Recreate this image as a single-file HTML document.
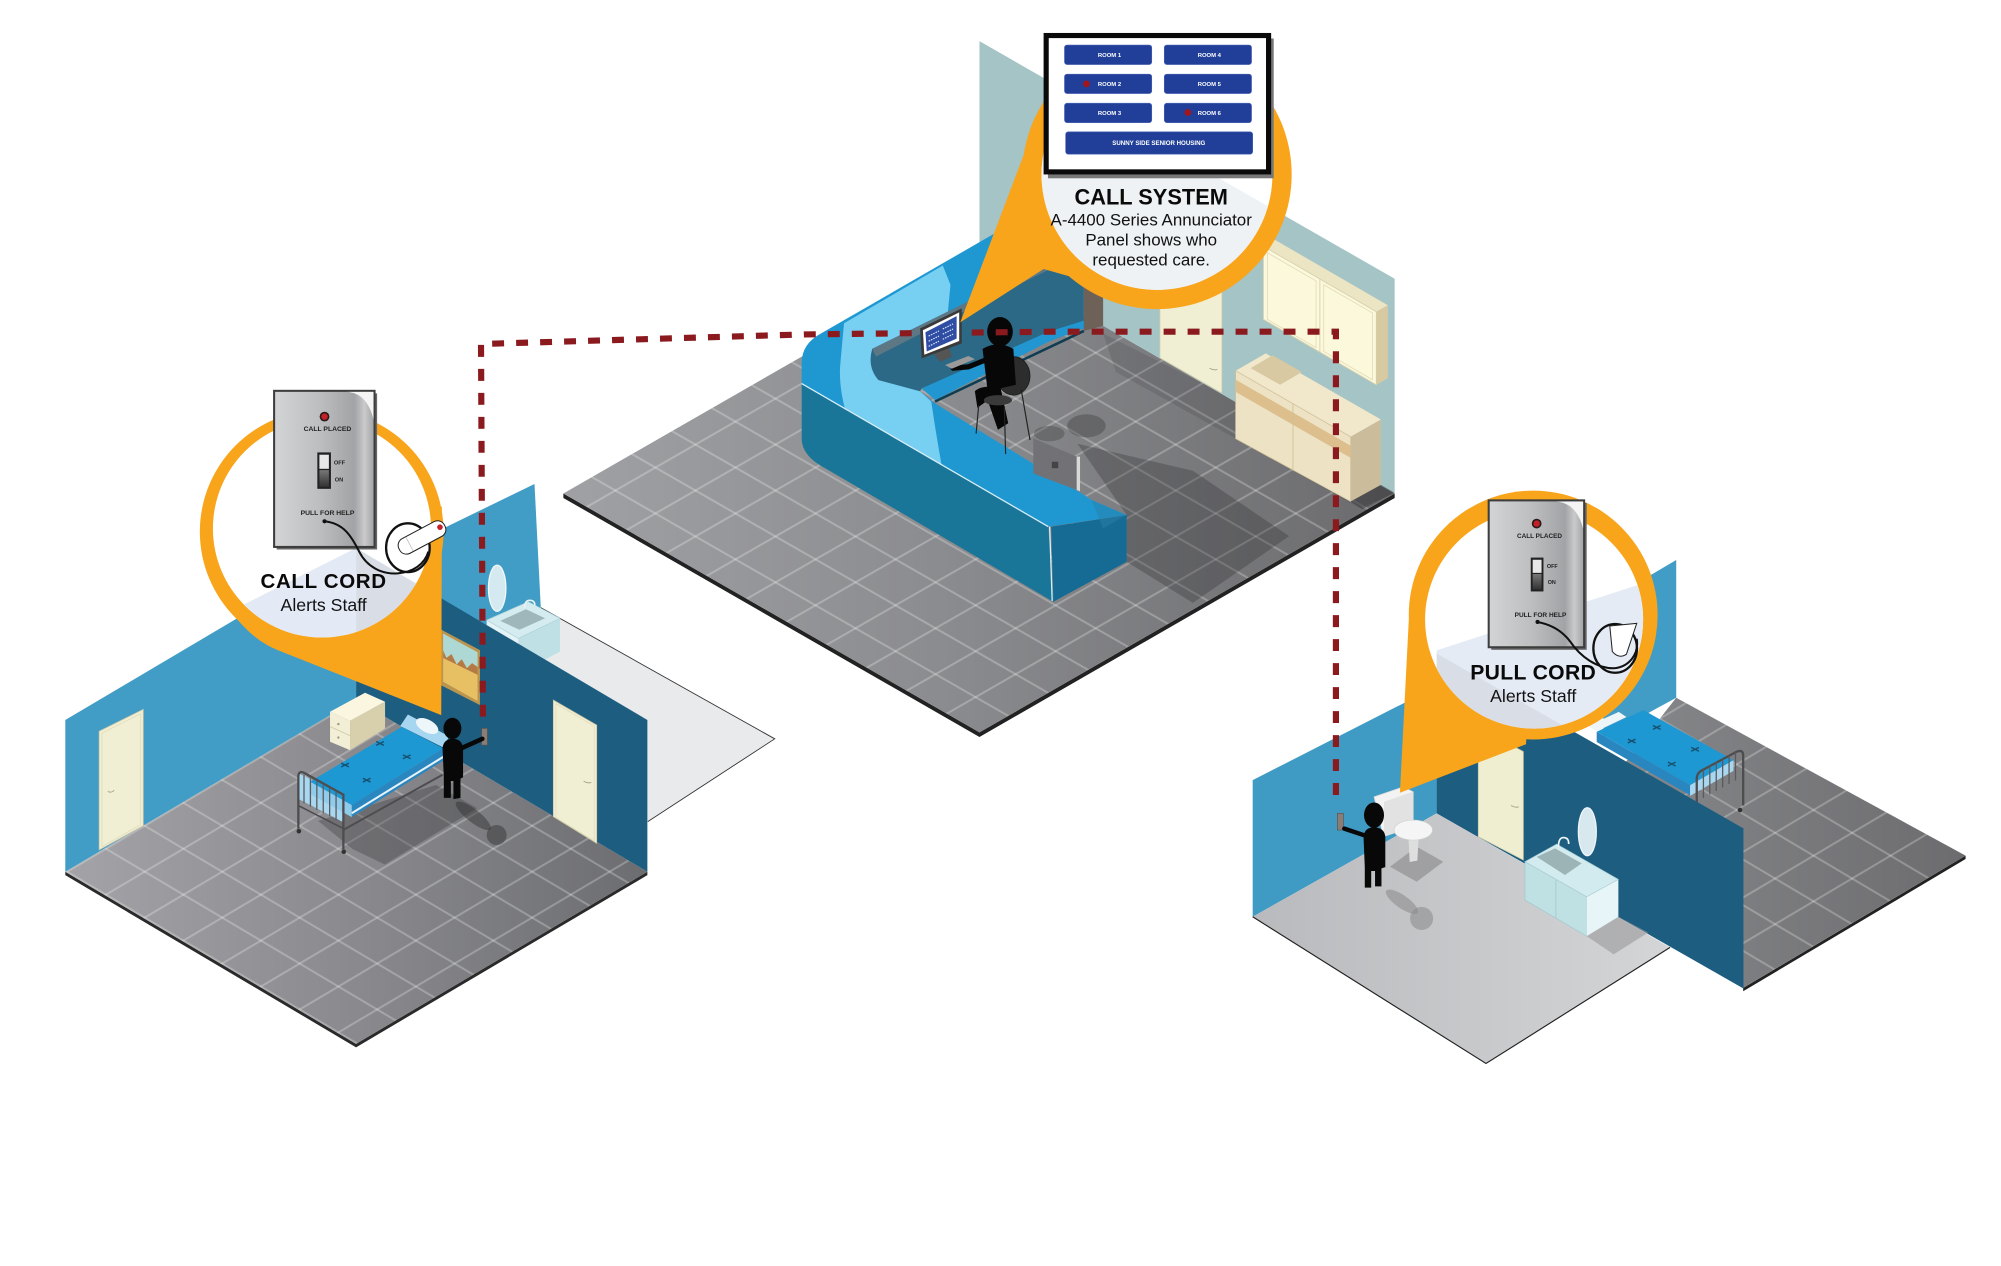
<!DOCTYPE html>
<html><head><meta charset="utf-8"><style>
html,body{margin:0;padding:0;background:#fff;}
svg{display:block;}
text{font-family:"Liberation Sans",Arial,sans-serif;}
</style></head><body>
<svg width="2001" height="1266" viewBox="0 0 2001 1266" xmlns="http://www.w3.org/2000/svg">
<defs>
<linearGradient id="gFloorC" x1="439" y1="0" x2="1087" y2="0" gradientUnits="userSpaceOnUse"><stop offset="0" stop-color="#a0a1a4"/><stop offset="0.45" stop-color="#8b8c8f"/><stop offset="1" stop-color="#6b6b6e"/></linearGradient>
<linearGradient id="gFloorL" x1="51" y1="0" x2="505" y2="0" gradientUnits="userSpaceOnUse"><stop offset="0" stop-color="#a4a4a8"/><stop offset="0.5" stop-color="#8a8a8e"/><stop offset="1" stop-color="#6c6d70"/></linearGradient>
<linearGradient id="gFloorR" x1="1200" y1="0" x2="1532" y2="0" gradientUnits="userSpaceOnUse"><stop offset="0" stop-color="#8d8e91"/><stop offset="1" stop-color="#6c6c6f"/></linearGradient>
<linearGradient id="gBath" x1="977" y1="0" x2="1302" y2="0" gradientUnits="userSpaceOnUse"><stop offset="0" stop-color="#b9babd"/><stop offset="1" stop-color="#d4d5d7"/></linearGradient>
<linearGradient id="gPanel" x1="0" y1="0" x2="1" y2="0"><stop offset="0" stop-color="#d3d4d6"/><stop offset="0.45" stop-color="#bdbec0"/><stop offset="0.8" stop-color="#a2a3a6"/><stop offset="0.9" stop-color="#cacacc"/><stop offset="1" stop-color="#a0a1a3"/></linearGradient>
<linearGradient id="gSw" x1="0" y1="0" x2="0" y2="1"><stop offset="0" stop-color="#777"/><stop offset="1" stop-color="#333"/></linearGradient>
<clipPath id="cL"><circle cx="251" cy="412" r="85"/></clipPath>
<clipPath id="cC"><circle cx="902" cy="136" r="90"/></clipPath>
<clipPath id="cR"><circle cx="1196" cy="483" r="85"/></clipPath>
<pattern id="pC" width="100" height="100" patternUnits="userSpaceOnUse" patternTransform="matrix(0.312 0.179 0.312 -0.179 571.8 400.3)"><rect x="0" y="0" width="100" height="5" fill="#fff" fill-opacity="0.25"/><rect x="0" y="0" width="5" height="100" fill="#fff" fill-opacity="0.25"/></pattern>
<pattern id="pL" width="100" height="100" patternUnits="userSpaceOnUse" patternTransform="matrix(0.302 0.179 0.302 -0.179 50.9 679.6)"><rect x="0" y="0" width="100" height="5" fill="#fff" fill-opacity="0.25"/><rect x="0" y="0" width="5" height="100" fill="#fff" fill-opacity="0.25"/></pattern>
<pattern id="pR" width="100" height="100" patternUnits="userSpaceOnUse" patternTransform="matrix(0.30 0.178 0.30 -0.178 1532.4 667.1)"><rect x="0" y="0" width="100" height="5" fill="#fff" fill-opacity="0.25"/><rect x="0" y="0" width="5" height="100" fill="#fff" fill-opacity="0.25"/></pattern>
</defs>
<rect x="0" y="0" width="2001" height="1266" fill="#fff"/>
<g transform="scale(1.282692)">

<!-- ============ LEFT ROOM ============ -->
<polygon points="421.6,473.7 604,576 505,640.5 340,545" fill="#e9eaec"/>
<polyline points="421.6,473.7 604,576 505,640.5" fill="none" stroke="#333" stroke-width="0.7"/>
<polygon points="343,413.2 416.7,377.3 421.6,473.7 380,490 343,480" fill="#419dc6"/>
<ellipse cx="387.6" cy="458.6" rx="6.8" ry="18" fill="#d5e9f0" stroke="#f3f9fb" stroke-width="1"/>
<polygon points="379.4,483.4 404.1,497.7 404.1,525 379.4,511" fill="#e4f3f6"/>
<polygon points="404.1,497.7 436.6,482.1 436.6,508 404.1,525" fill="#bfe0e4"/>
<polygon points="379.4,483.4 411.9,469.1 436.6,482.1 404.1,497.7" fill="#d4ecf0" stroke="#a9cfd6" stroke-width="0.5"/>
<polygon points="390,484 410,475 425,482 405,491" fill="#9fb6ba"/>
<path d="M409,474 q0,-6 4,-6 q4,0 4,4" fill="none" stroke="#e8f4f6" stroke-width="1.2"/>

<polygon points="50.9,679.6 277.6,813.8 504.7,679.6 504.7,682.3 277.6,816.5 50.9,682.3" fill="#2a2a2a"/>
<polygon points="50.9,679.6 277.6,813.8 504.7,679.6 277.6,545.5" fill="url(#gFloorL)"/>
<polygon points="50.9,679.6 277.6,813.8 504.7,679.6 277.6,545.5" fill="url(#pL)"/>

<polygon points="50.9,561.3 277.6,427.2 277.6,545.5 50.9,679.6" fill="#419dc6"/>
<polygon points="277.6,427.2 504.7,561.3 504.7,679.6 277.6,545.5" fill="#1d5d80"/>

<polygon points="77.3,570.1 111.7,553 111.7,643.7 77.3,662.6" fill="#f1efd3" stroke="#cbc6a5" stroke-width="0.6"/>
<polygon points="79.5,571.6 109.5,556.6 109.5,643 79.5,660" fill="none" stroke="#dcd7b6" stroke-width="0.5"/>
<path d="M84,617 q3,1.5 5,-1" fill="none" stroke="#a8a385" stroke-width="0.7"/>
<polygon points="431.4,545.8 465.2,565.3 465.2,657.5 431.4,636.7" fill="#f1efd3" stroke="#cbc6a5" stroke-width="0.6"/>
<polygon points="433.4,548.5 463.2,566.2 463.2,655.6 433.4,637.4" fill="none" stroke="#dcd7b6" stroke-width="0.5"/>
<path d="M455,609 q3,2 6,1" fill="none" stroke="#a8a385" stroke-width="0.7"/>

<polygon points="343.6,490.7 374.2,506.8 374.2,549.7 343.6,534.1" fill="#b99550"/>
<polygon points="345.5,494 372.3,508.5 372.3,546.5 345.5,531.5" fill="#e7c064"/>
<polygon points="345.5,494 372.3,508.5 372.3,520 368,517 364,521 360,514 356,518 352,510 348,513 345.5,507" fill="#aed8d4"/>
<polygon points="345.5,507 348,513 352,510 356,518 360,514 364,521 368,517 372.3,520 372.3,526 345.5,513" fill="#b47a45"/>

<polygon points="257.3,554.9 272.9,561.9 272.9,584.8 257.3,578.3" fill="#f3efd6"/>
<polygon points="272.9,561.9 300.2,547.1 300.2,567.9 272.9,584.8" fill="#d8cfac"/>
<polygon points="257.3,554.9 284.6,540.1 300.2,547.1 272.9,561.9" fill="#faf6df"/>
<line x1="257.3" y1="566.5" x2="272.9" y2="573.5" stroke="#cfc8a6" stroke-width="0.6"/>
<circle cx="263.8" cy="564.5" r="0.9" fill="#9d967a"/><circle cx="263.8" cy="575" r="0.9" fill="#9d967a"/>

<polygon points="248,640 275,662 300,674 372,630 340,612" fill="#2e2e31" fill-opacity="0.3"/>
<polygon points="312,566 318,557 350,574 346,583" fill="#a6d6f0"/>
<polygon points="233,603 267.7,620 267.7,641 233,623" fill="#a9d7ef"/>
<polygon points="345.7,583.5 274.2,627.6 274.2,637 345.7,593" fill="#2a86bf"/>
<polyline points="274.2,634 345.7,590" fill="none" stroke="#e7f3f8" stroke-width="1.6"/>
<polygon points="241.7,609.4 274.2,627.6 274.2,637 241.7,619" fill="#8fcbeb"/>
<polygon points="313.2,566.6 345.7,583.5 274.2,627.6 241.7,609.4" fill="#1e98d2"/>
<ellipse cx="333" cy="566" rx="9.5" ry="5" fill="#edf6f8" transform="rotate(28 333 566)"/>
<path d="M293.3,578.1 L299.3,581.1 M293.3,581.1 L299.3,578.1 M266,594.9 L272,597.9 M266,597.9 L272,594.9 M314.1,588.5 L320.1,591.5 M314.1,591.5 L320.1,588.5 M282.9,606.7 L288.9,609.7 M282.9,609.7 L288.9,606.7" stroke="#17506f" stroke-width="1.1"/>
<path d="M232.6,646 V605 Q233,600.5 237,602.5 L267.7,619.5 V662" fill="none" stroke="#4d4d50" stroke-width="1.8"/>
<path d="M237,604.3 V626.3 M242,606.8 V628.8 M247,609.4 V631.4 M252,612 V634 M257,614.5 V636.5 M262,617.1 V639.1" stroke="#5a5a5d" stroke-width="1"/>
<line x1="232.6" y1="628" x2="267.7" y2="646" stroke="#4d4d50" stroke-width="1.2"/>
<line x1="267.7" y1="647" x2="345" y2="604" stroke="#4d4d50" stroke-width="1.5"/>
<circle cx="233" cy="648" r="1.8" fill="#333"/><circle cx="268" cy="664" r="1.8" fill="#333"/>

<ellipse cx="369" cy="636" rx="17" ry="5" fill="#2e2e30" fill-opacity="0.45" transform="rotate(38 369 636)"/>
<circle cx="387.2" cy="651" r="7.8" fill="#2e2e30" fill-opacity="0.45"/>
<rect x="375.5" y="567.9" width="4.5" height="13" fill="#8a7d76" stroke="#5a5250" stroke-width="0.5"/>
<ellipse cx="352.7" cy="567.9" rx="7" ry="8.3" fill="#080808"/>
<path d="M345,583 Q346,576 353,576 Q360,576 361,583 L361,606 L359,607 L359,622 L353.5,623 L353.5,609 L351.5,609 L351.5,622 L346,622 L346,606 Z" fill="#080808"/>
<line x1="356" y1="585" x2="376" y2="576" stroke="#080808" stroke-width="3.6" stroke-linecap="round"/>

<!-- ============ CENTER ROOM ============ -->
<polygon points="439.2,384.7 763.6,571 1087.3,384.7 1087.3,388.2 763.6,574.6 439.2,388.2" fill="#222"/>
<polygon points="439.2,384.7 763.6,571 1087.3,384.7 763.6,198.5" fill="url(#gFloorC)"/>
<polygon points="439.2,384.7 763.6,571 1087.3,384.7 763.6,198.5" fill="url(#pC)"/>
<polygon points="840,346 930,367 1005,418 930,470 878.4,438 878.4,401.5" fill="#2b2b2e" fill-opacity="0.3"/>
<polygon points="860,260 1000,330 1087,384.7 1060,396 960,340 870,290" fill="#2b2b2e" fill-opacity="0.15"/>
<ellipse cx="847" cy="332" rx="15" ry="9" fill="#333" fill-opacity="0.35"/>
<ellipse cx="818" cy="338" rx="12" ry="6" fill="#333" fill-opacity="0.3"/>

<polygon points="763.6,32.1 1087.3,217.3 1087.3,384.7 763.6,198.5" fill="#a4c4c6"/>
<polygon points="904.3,200 952.6,227.5 952.6,306.5 904.3,279" fill="#f1efd3" stroke="#d2cda9" stroke-width="0.6"/>
<path d="M943,287 q3,2 6,1" fill="none" stroke="#a8a385" stroke-width="0.7"/>

<polygon points="985,192 994,187 1082,238 1073,243" fill="#ece5c4"/>
<polygon points="985,192 1073,243 1073,300 985,249" fill="#fbf8dc" stroke="#d9d2ad" stroke-width="0.7"/>
<polygon points="988,197 1026,219 1026,271 988,249" fill="none" stroke="#e0d9b6" stroke-width="0.6"/>
<polygon points="1032,222 1070,244 1070,296 1032,274" fill="none" stroke="#e0d9b6" stroke-width="0.6"/>
<line x1="1029" y1="217.5" x2="1029" y2="274.5" stroke="#d9d2ad" stroke-width="0.7"/>
<polygon points="1073,243 1082,238 1082,295 1073,300" fill="#d7caa3"/>

<polygon points="963.3,289 986.8,275.5 1076.6,327 1053,340.5" fill="#f1e8cb"/>
<polygon points="975,287 992,277 1015,290 998,300" fill="#d8c9a3"/>
<polygon points="963.3,289 1053,340.5 1053,391 963.3,342" fill="#ede2c4" stroke="#cfc19a" stroke-width="0.6"/>
<polygon points="963.3,296 1053,347.5 1053,357 963.3,305.5" fill="#dcbf8c"/>
<line x1="1008" y1="315" x2="1008" y2="367" stroke="#cfc19a" stroke-width="0.7"/>
<polygon points="1053,340.5 1076.6,327 1076.6,378 1053,391" fill="#cbbd9b"/>
<polygon points="1053,391 1076.6,378 1087,384 1062,397" fill="#3a3a3c" fill-opacity="0.5"/>

<!-- desk -->
<path d="M625,299 L817.3,410.6 L821.2,469.1 L645,366 Q625,356 625,342 Z" fill="#1a7698"/>
<polygon points="819.5,410.6 878.4,401.5 878.4,437.9 821.2,469.1" fill="#156b93"/>
<line x1="818.3" y1="410.6" x2="820.3" y2="468.5" stroke="#d8eef6" stroke-width="1"/>
<path d="M625,299 L625,283 Q625,268 640,260 L850,139 L868,150 L866,170 L751,237 L680,272 Q676,286 684.8,296.3 L717.3,305 L729,314.5 L847.2,387.2 L851.1,389.8 L817.3,410.6 Z" fill="#1f98d2"/>
<path d="M658,252 L735,207 L741,222 L739,243 L680,272 Q676,286 684.8,296.3 L717.3,305 L726,313 Q730,340 734,362 L658.5,318 Q654,300 655,285 Z" fill="#77cff2"/>
<polygon points="817.3,410.6 851.1,389.8 878.4,401.5" fill="#1f98d2"/>
<polygon points="851,390 878,401.5 860,412" fill="#2a7fa8" fill-opacity="0.5"/>
<line x1="625" y1="299" x2="817.3" y2="410.6" stroke="#d8eef6" stroke-width="1"/>
<path d="M680,272 L751,237 L845,190 L845,256 L817.3,264 L718.6,302.8 L717.3,305 L684.8,296.3 Q676,286 680,272 Z" fill="#2b6986"/>
<polygon points="680,272 751,237 845,190 845,197 751,243 683,278" fill="#5d7784"/>
<polygon points="718.6,302.8 817.3,258.6 845,250 845,256 817.3,266.4 729,311.9" fill="#2196d0"/>
<line x1="729" y1="313" x2="845" y2="258" stroke="#0f3d52" stroke-width="2"/>
<polygon points="845,190 860,182 860,254 845,258" fill="#6e6158"/>

<!-- person at desk -->
<ellipse cx="790" cy="293" rx="13" ry="15" fill="#2d2d2d" stroke="#1a1a1a" stroke-width="0.6"/>
<path d="M766,272 Q778,265 790,272 L792,300 L770,305 Z" fill="#070707"/>
<polyline points="770,280 755,286 743,287" fill="none" stroke="#070707" stroke-width="4" stroke-linecap="round"/>
<path d="M760,305 Q765,300 780,302 L786,330 L778,335 L770,312 L762,318 Z" fill="#070707"/>
<ellipse cx="779.6" cy="258.6" rx="10" ry="11.5" fill="#070707"/>
<ellipse cx="778" cy="312" rx="11" ry="4" fill="#3a3a3a"/>
<path d="M763,316 L761,338 M783,318 L784,354 M796,303 L803,343" stroke="#222" stroke-width="0.9"/>

<polygon points="805.6,341.7 839.4,356 839.4,382 805.6,369.1" fill="#727276"/>
<polygon points="839.4,356 842,356 842,383 839.4,382" fill="#d8d8d8"/>
<rect x="820" y="360" width="5" height="5" fill="#444"/>

<!-- ============ RIGHT ROOM ============ -->
<polygon points="1250,470 1306.8,436.6 1306.8,544 1250,575" fill="#419dc6"/>
<polygon points="1532.4,667.1 1359,770.2 1359,772.8 1532.4,669.7" fill="#222"/>
<polygon points="1306.8,544 1532.4,667.1 1359,770.2 1200,680" fill="url(#gFloorR)"/>
<polygon points="1306.8,544 1532.4,667.1 1359,770.2 1200,680" fill="url(#pR)"/>

<polygon points="1244.8,570.5 1317.6,612.1 1317.6,620 1244.8,578.5" fill="#2a86bf"/>
<polygon points="1317.6,612.1 1351.4,592.6 1351.4,601 1317.6,620.5" fill="#a9d7ef"/>
<polygon points="1244.8,570.5 1281.2,553.6 1351.4,592.6 1317.6,612.1" fill="#1e98d2"/>
<polygon points="1238,566 1262,555 1268,559 1245,570" fill="#eef5f8"/>
<path d="M1288.6,565.6 L1294.6,568.6 M1288.6,568.6 L1294.6,565.6 M1269.1,576.2 L1275.1,579.2 M1269.1,579.2 L1275.1,576.2 M1318.5,582.7 L1324.5,585.7 M1318.5,585.7 L1324.5,582.7 M1300.3,594.2 L1306.3,597.2 M1300.3,597.2 L1306.3,594.2" stroke="#17506f" stroke-width="1.1"/>
<path d="M1322.8,628 V607 Q1323,602 1328,600 L1354,586 Q1359,584 1359,589 V628" fill="none" stroke="#4d4d50" stroke-width="1.8"/>
<path d="M1328,600 V622 M1333,597.3 V619.3 M1338,594.6 V616.6 M1343,591.9 V613.9 M1348,589.2 V611.2 M1353,586.5 V608.5" stroke="#5a5a5d" stroke-width="1"/>
<circle cx="1356.5" cy="631.5" r="1.8" fill="#333"/>

<polygon points="976.6,608.2 1120,535.1 1120,634.1 976.6,714.7" fill="#3f9bc3"/>
<polygon points="1120,509.4 1359.2,645.8 1359.2,770.6 1120,634.1" fill="#1c5d80"/>
<polygon points="1152.5,567 1187.6,586 1187.6,670.5 1152.5,652.3" fill="#f0eed1" stroke="#cfcaa6" stroke-width="0.6"/>
<path d="M1178,628 q3,2 6,1" fill="none" stroke="#a8a385" stroke-width="0.7"/>
<polygon points="976.6,714.7 1158.5,829.1 1302,738.6 1120,634.1" fill="url(#gBath)"/>
<polyline points="976.6,714.7 1158.5,829.1 1302,738.6" fill="none" stroke="#222" stroke-width="0.9"/>

<ellipse cx="1237.5" cy="648.4" rx="7" ry="18.7" fill="#d7e8ef" stroke="#eef6f9" stroke-width="1"/>
<polygon points="1237,729.8 1261.7,714.7 1285,727 1258,744" fill="#9a9a9d" fill-opacity="0.6"/>
<polygon points="1188.9,671.8 1237,699.1 1237,729.8 1188.9,701.7" fill="#bfe1e3" stroke="#9fc7cc" stroke-width="0.5"/>
<line x1="1213" y1="686" x2="1213" y2="716" stroke="#9fc7cc" stroke-width="0.6"/>
<polygon points="1237,699.1 1261.7,685.6 1261.7,714.7 1237,729.8" fill="#e7f5f8"/>
<polygon points="1188.9,671.8 1213.6,658.1 1261.7,685.6 1237,699.1" fill="#d2ebef" stroke="#a8ccd2" stroke-width="0.5"/>
<polygon points="1198,668 1212.3,661.4 1233.1,673.1 1220.1,682.2" fill="#9db4b7"/>
<path d="M1215,660 q0,-7 4,-7 q4,0 4,5" fill="none" stroke="#eef7f9" stroke-width="1.3"/>

<polygon points="1104.5,660.1 1125.2,671.8 1104.5,687.4 1083.7,675.7" fill="#a0a0a3"/>
<polygon points="1071.2,621.2 1094,613.4 1101.8,617.3 1101.8,644.5 1078.5,652.3" fill="#f3f3f3" stroke="#d5d5d5" stroke-width="0.5"/>
<polygon points="1079,625 1101.8,617.3 1101.8,644.5 1079,652" fill="#e2e2e2"/>
<polygon points="1098,652 1106,652 1105,671 1099,672" fill="#dedede"/>
<ellipse cx="1101.8" cy="647.1" rx="15" ry="7.8" fill="#f5f5f5" stroke="#d0d0d0" stroke-width="0.5"/>

<ellipse cx="1093" cy="703" rx="15" ry="5" fill="#8d8d90" fill-opacity="0.6" transform="rotate(35 1093 703)"/>
<circle cx="1108.3" cy="716" r="9" fill="#8d8d90" fill-opacity="0.6"/>
<rect x="1042.6" y="634.1" width="4.7" height="13" fill="#8a7d76" stroke="#5a5250" stroke-width="0.5"/>
<ellipse cx="1071.2" cy="635.5" rx="7.8" ry="9.9" fill="#080808"/>
<path d="M1063,652 Q1064,645 1071,645 Q1079,645 1080,652 L1080,676 L1077,677 L1077,691 L1072,691 L1072,679 L1069,679 L1069,692 L1064,692 L1064,676 Z" fill="#080808"/>
<line x1="1066" y1="652" x2="1048" y2="646" stroke="#080808" stroke-width="3.4" stroke-linecap="round"/>

<!-- dashed connector (on top of rooms) -->
<path d="M376.5,558.7 L375,268.2 L627,260.7 L820,258.6 L1041.5,258.6 L1041.5,625" fill="none" stroke="#8b1a1f" stroke-width="4.8" stroke-dasharray="9.3 9.4"/>

<!-- workstation monitor -->
<polygon points="728,276 740,271 742,278 733,282" fill="#555"/>
<polygon points="717.3,256 749.8,240.4 749.8,267.7 718.6,279.4" fill="#3a3a3a"/>
<polygon points="719.5,257.5 747.8,243.5 747.8,265.8 720.6,276.6" fill="#fff"/>
<polygon points="721.5,259 745.8,246.5 745.8,264 722.5,274" fill="#2f4ea3"/>
<path d="M724,262 L732,258 M735,256.5 L743,252.5 M724,266 L732,262 M735,260.5 L743,256.5 M724,270 L732,266 M735,264.5 L743,260.5" stroke="#dfe6ff" stroke-width="0.9" stroke-dasharray="1.2 0.8"/>
<polygon points="736.8,284.6 755,277.5 760,280 742,287.5" fill="#9a9a9a"/>

<!-- ============ BUBBLES ============ -->
<!-- left -->
<path d="M181,478 Q198,500 217,507 L344,557.5 L344.5,395 L300,395 Z" fill="#f8a51c"/>
<circle cx="250.8" cy="414.5" r="95" fill="#f8a51c"/>
<circle cx="251" cy="412" r="85" fill="#fff"/>
<g clip-path="url(#cL)">
<polygon points="150,491.5 277.6,427.2 277.6,520 150,520" fill="#e3eaf5"/>
<polygon points="277.6,427.2 360,476 360,520 277.6,520" fill="#d9dde6"/>
</g>
<rect x="215.7" y="306.7" width="78.3" height="121.7" fill="#666"/>
<rect x="213.7" y="304.7" width="78.3" height="121.7" fill="url(#gPanel)" stroke="#3d3d3d" stroke-width="1.6"/>
<path d="M270,305.5 Q286,306 291.2,327 L291.2,305.5 Z" fill="#f4f4f4"/>
<circle cx="253" cy="324.8" r="3.8" fill="#2a1a1a"/><circle cx="253" cy="324.8" r="2.5" fill="#c3202a"/>
<text x="255.3" y="336.2" font-size="5.3" font-weight="bold" text-anchor="middle" fill="#222">CALL PLACED</text>
<rect x="247.4" y="352.7" width="10.6" height="28.4" fill="#222"/>
<rect x="249" y="354.5" width="7.4" height="11" fill="#e8e8e8"/>
<rect x="249" y="366.5" width="7.4" height="13" fill="url(#gSw)"/>
<text x="260.3" y="362" font-size="4.4" font-weight="bold" fill="#222">OFF</text>
<text x="261" y="375.2" font-size="4.4" font-weight="bold" fill="#222">ON</text>
<text x="255.3" y="401.6" font-size="5.3" font-weight="bold" text-anchor="middle" fill="#222">PULL FOR HELP</text>
<circle cx="253" cy="406.4" r="1.6" fill="#111"/>
<path d="M253,406.4 C268,408 274,418 280,430 C286,442 298,448 310,447 C322,446 331,440 334,430" fill="none" stroke="#111" stroke-width="1.6"/>
<ellipse cx="318" cy="427" rx="17" ry="19" fill="none" stroke="#111" stroke-width="1.8"/>
<g transform="rotate(-28 329 419)"><rect x="309" y="412.5" width="40" height="13" rx="6" fill="#fff" stroke="#222" stroke-width="0.8"/><line x1="318" y1="413" x2="318" y2="425" stroke="#bbb" stroke-width="0.6"/></g>
<circle cx="343" cy="411" r="2.2" fill="#c3202a"/>
<text x="252.3" y="458.6" font-size="16" font-weight="bold" text-anchor="middle" letter-spacing="0.5" fill="#0a0a0a">CALL CORD</text>
<text x="252.3" y="476.3" font-size="13.8" text-anchor="middle" fill="#111">Alerts Staff</text>

<!-- center -->
<polygon points="797,140 801,113 748.6,251.3 813.6,209.7 850,220" fill="#f8a51c"/>
<circle cx="902" cy="136" r="105" fill="#f8a51c"/>
<circle cx="902" cy="136" r="90" fill="#fff"/>
<g clip-path="url(#cC)">
<polygon points="800,53 1000,167.4 1000,240 800,240" fill="#eef2f5"/>
</g>
<rect x="817" y="30" width="176" height="109" fill="#777"/>
<rect x="815.6" y="27.7" width="173.4" height="106.3" fill="#fff" stroke="#0a0a0a" stroke-width="4"/>
<g fill="#213f99" stroke="#4a63b5" stroke-width="0.5">
<rect x="829.9" y="35.1" width="68" height="15.2" rx="2"/>
<rect x="907.7" y="35.1" width="68" height="15.2" rx="2"/>
<rect x="829.9" y="57.8" width="68" height="15.1" rx="2"/>
<rect x="907.7" y="57.8" width="68" height="15.1" rx="2"/>
<rect x="829.9" y="80.5" width="68" height="15.1" rx="2"/>
<rect x="907.7" y="80.5" width="68" height="15.1" rx="2"/>
<rect x="830.8" y="102.8" width="145.8" height="17.4" rx="2"/>
</g>
<circle cx="847" cy="65.4" r="2.6" fill="#a3151c"/>
<circle cx="926.1" cy="87.7" r="2.6" fill="#a3151c"/>
<g font-size="4.6" font-weight="bold" fill="#fff" text-anchor="middle">
<text x="865" y="44.4">ROOM 1</text>
<text x="942.8" y="44.4">ROOM 4</text>
<text x="865" y="67">ROOM 2</text>
<text x="942.8" y="67">ROOM 5</text>
<text x="865" y="89.7">ROOM 3</text>
<text x="942.8" y="89.7">ROOM 6</text>
<text x="903.4" y="113.2" font-size="4.8">SUNNY SIDE SENIOR HOUSING</text>
</g>
<text x="897.5" y="159.5" font-size="17" font-weight="bold" text-anchor="middle" fill="#0a0a0a">CALL SYSTEM</text>
<text x="897.5" y="175.7" font-size="13.2" text-anchor="middle" fill="#111">A-4400 Series Annunciator</text>
<text x="897.5" y="191.2" font-size="13.2" text-anchor="middle" fill="#111">Panel shows who</text>
<text x="897.5" y="207.1" font-size="13.2" text-anchor="middle" fill="#111">requested care.</text>

<!-- right -->
<polygon points="1099,470 1091.4,618 1189.7,580.2 1195,480" fill="#f8a51c"/>
<circle cx="1195.3" cy="479.5" r="97" fill="#f8a51c"/>
<circle cx="1196" cy="483" r="85" fill="#fff"/>
<g clip-path="url(#cR)">
<polygon points="1120,507 1300,448.5 1300,612 1120,509.4" fill="#e4ebf5"/>
<polygon points="1120,509.4 1300,612 1300,700 1120,700" fill="#d9dde6"/>
</g>
<rect x="1162.6" y="392.1" width="74.4" height="114.5" fill="#666"/>
<rect x="1160.6" y="390.1" width="74.4" height="114.5" fill="url(#gPanel)" stroke="#3d3d3d" stroke-width="1.6"/>
<path d="M1213,391 Q1229,392 1234.2,412 L1234.2,391 Z" fill="#f4f4f4"/>
<circle cx="1198" cy="408.2" r="3.8" fill="#2a1a1a"/><circle cx="1198" cy="408.2" r="2.5" fill="#c3202a"/>
<text x="1200.2" y="419.6" font-size="5" font-weight="bold" text-anchor="middle" fill="#222">CALL PLACED</text>
<rect x="1193.4" y="434.7" width="9.9" height="26.4" fill="#222"/>
<rect x="1194.9" y="436.4" width="6.9" height="10.2" fill="#e8e8e8"/>
<rect x="1194.9" y="447.5" width="6.9" height="12" fill="url(#gSw)"/>
<text x="1206" y="443" font-size="4.2" font-weight="bold" fill="#222">OFF</text>
<text x="1206.6" y="455.4" font-size="4.2" font-weight="bold" fill="#222">ON</text>
<text x="1201" y="481.1" font-size="5.1" font-weight="bold" text-anchor="middle" fill="#222">PULL FOR HELP</text>
<circle cx="1198.7" cy="484.9" r="1.6" fill="#111"/>
<path d="M1198.7,484.9 C1210,487 1218,492 1224,500 C1232,512 1245,521 1258,521 C1270,520 1278,510 1276,498" fill="none" stroke="#111" stroke-width="1.6"/>
<ellipse cx="1259.2" cy="505.5" rx="17" ry="19" fill="none" stroke="#111" stroke-width="1.8"/>
<path d="M1255,488 L1276,486 L1268,510 Q1262,514 1257,508 Z" fill="#fff" stroke="#222" stroke-width="0.8"/>
<text x="1195.3" y="529.9" font-size="16.5" font-weight="bold" text-anchor="middle" letter-spacing="0.25" fill="#0a0a0a">PULL CORD</text>
<text x="1195.3" y="547.3" font-size="13.8" text-anchor="middle" fill="#111">Alerts Staff</text>

</g>
</svg>
</body></html>
